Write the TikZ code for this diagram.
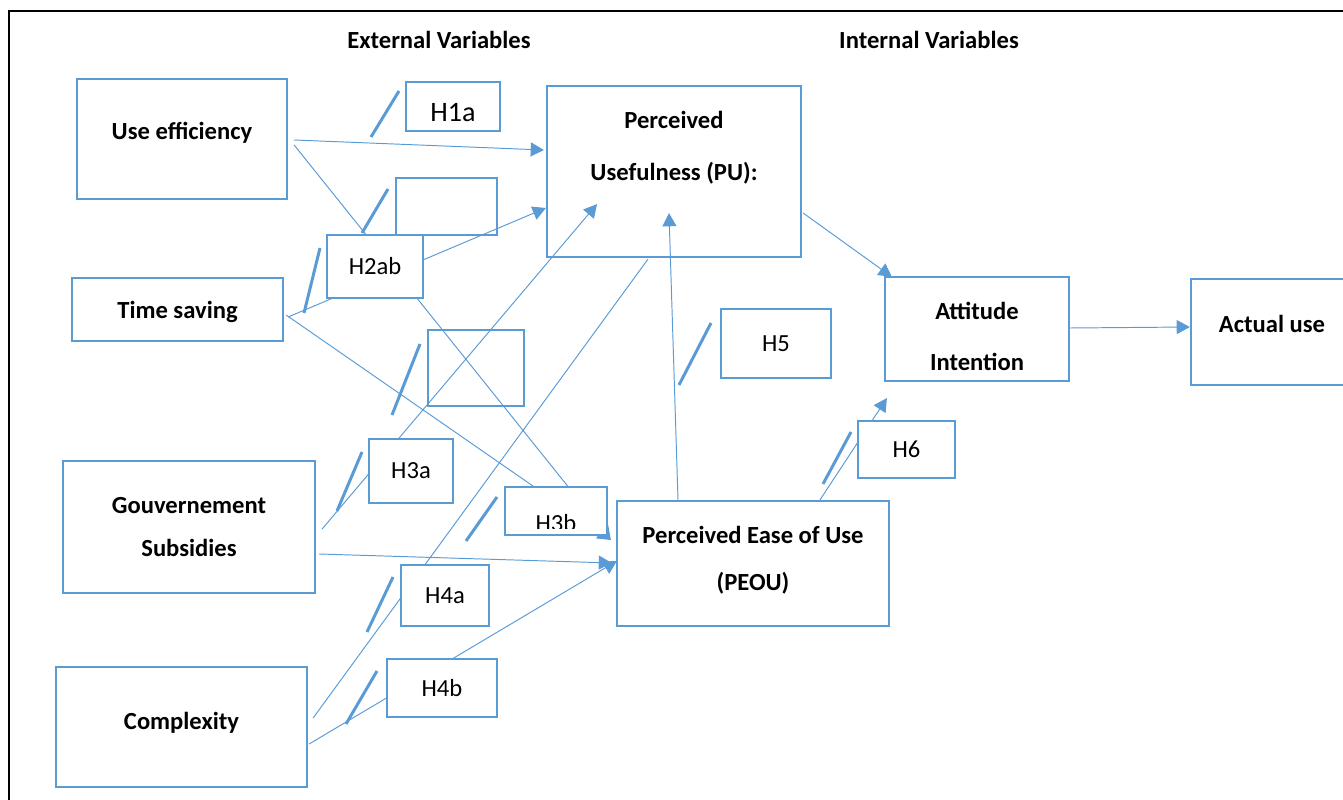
\documentclass[tikz,border=0pt]{standalone}
\usepackage{fontspec}
\setmainfont{Carlito}
\usetikzlibrary{arrows.meta,calc}
\definecolor{LineClr}{RGB}{91,155,213}

\begin{document}
\begin{tikzpicture}[x=0.02cm,y=-0.02cm]
\tikzset{
  mainbox/.style={draw=LineClr,line width=1.3pt,inner sep=0pt},
  boxtext/.style={align=center,inner sep=0pt,font=\fontsize{14}{17}\selectfont\bfseries},
  emptybox/.style={draw=LineClr,line width=1.3pt,inner sep=0pt},
  hbox/.style={draw=LineClr,line width=1.3pt,fill=white,inner sep=0pt,font=\fontsize{14}{17}\selectfont},
  head/.style={font=\fontsize{14}{17}\selectfont\bfseries},
  link/.style={draw=LineClr,line width=0.55pt},
  arr/.style={link,-{Triangle[length=7.5pt,width=8pt]}},
  tick/.style={draw=LineClr,line width=1.7pt},
}
\useasboundingbox (0,0) rectangle (1343,800);
\draw[line width=1.1pt] (9,820) -- (9,11) -- (1360,11);

\node[head] (external) at (439,40) {External Variables};
\node[head] (internal) at (929,40) {Internal Variables};

% outer variables
\node[mainbox,minimum width=4.2cm,minimum height=2.4cm,
  label={[boxtext,yshift=0.12cm]center:Use efficiency}] (efficiency) at (182,139) {};
\node[mainbox,minimum width=4.22cm,minimum height=1.26cm,
  label={[boxtext,yshift=-0.04cm]center:Time saving}] (timesaving) at (177.5,309.5) {};
\node[mainbox,minimum width=5.04cm,minimum height=2.64cm,
  label={[boxtext]center:Gouvernement\\[7pt]Subsidies}] (subsidies) at (189,527) {};
\node[mainbox,minimum width=5.02cm,minimum height=2.4cm,
  label={[boxtext,yshift=0.08cm]center:Complexity}] (complexity) at (181.5,727) {};

% inner variables
\node[mainbox,minimum width=5.08cm,minimum height=3.42cm,
  label={[boxtext,yshift=0.48cm]center:Perceived\\[12.5pt]Usefulness (PU):}] (usefulness) at (674,171.5) {};
\node[mainbox,minimum width=5.44cm,minimum height=2.5cm,
  label={[boxtext,yshift=0.06cm]center:Perceived Ease of Use\\[10pt](PEOU)}] (ease) at (753,563.5) {};
\node[mainbox,minimum width=3.68cm,minimum height=2.08cm,
  label={[boxtext,yshift=-0.14cm]center:Attitude\\[12pt]Intention}] (attitude) at (977,329) {};
\node[mainbox,minimum width=3.24cm,minimum height=2.12cm,
  label={[boxtext,yshift=0.16cm]center:Actual use}] (actual) at (1272,332) {};

\node[emptybox,minimum width=2.02cm,minimum height=1.14cm] (blankA) at (446.5,206.5) {};
\node[emptybox,minimum width=1.92cm,minimum height=1.52cm] (blankB) at (476,368) {};

% links
\draw[arr] ($(efficiency.east)+(6,1)$) -- ($(usefulness.west)+(-2,-21.5)$);
\draw[arr] ($(efficiency.east)+(6,6)$) -- ($(ease.west)+(-5,-23.5)$);
\draw[arr] ($(timesaving.east)+(4,7.5)$) -- ($(usefulness.west)+(0,36.5)$);
\draw[arr] ($(timesaving.east)+(2,5.5)$) -- ($(ease.west)+(-5,-23.5)$);
\draw[arr] ($(subsidies.east)+(6,2)$) -- ($(usefulness.south)+(-77,-54)$);
\draw[arr] ($(subsidies.east)+(3,27)$) -- ($(ease.west)+(-4,-0.5)$);
\draw[link] ($(complexity.east)+(5,-9)$) -- ($(usefulness.south)+(-26,1)$);
\draw[arr] ($(complexity.east)+(1,17)$) -- ($(ease.west)+(1,-2.5)$);
\draw[arr] ($(ease.north)+(-75,0)$) -- ($(usefulness.south)+(-5,-45)$);
\draw[arr] ($(usefulness.east)+(1,41.5)$) -- ($(attitude.north west)+(8,1)$);
\draw[arr] ($(ease.north)+(67,0)$) -- ($(attitude.south west)+(3,16)$);
\draw[arr] ($(attitude.east)+(0,-1)$) -- ($(actual.west)+(0,-5)$);

% hypotheses
\node[hbox,minimum width=1.88cm,minimum height=0.98cm,
  label={[font=\fontsize{16}{19}\selectfont,yshift=-0.12cm]center:H1a}] (h1a) at (453,106.5) {};
\node[hbox,minimum width=1.92cm,minimum height=1.26cm] (h2ab) at (375,266.5) {H2ab};
\node[hbox,minimum width=1.68cm,minimum height=1.28cm] (h3a) at (411,471) {H3a};
\node[hbox,minimum width=2.04cm,minimum height=0.96cm] (h3b) at (556,511) {};
\begin{scope}
\clip (h3b.north west) rectangle ($(h3b.south east)+(0,-8)$);
\node[font=\fontsize{14}{17}\selectfont] (h3btext) at (556,523) {H3b};
\end{scope}
\node[hbox,minimum width=1.76cm,minimum height=1.22cm] (h4a) at (445,595.5) {H4a};
\node[hbox,minimum width=2.2cm,minimum height=1.16cm] (h4b) at (442,688) {H4b};
\node[hbox,minimum width=2.2cm,minimum height=1.38cm] (h5) at (776,343.5) {H5};
\node[hbox,minimum width=1.94cm,minimum height=1.14cm] (h6) at (906.5,449.5) {H6};

\draw[tick] (371,137) -- (399,91) (362,233) -- (388,189) (304,313) -- (320,248)
  (392,415) -- (420,344) (337,511) -- (362,452) (466,541) -- (497,497)
  (367,632) -- (393,577) (346,724) -- (377,671) (679,385) -- (711,323)
  (823,484) -- (851,432);

\end{tikzpicture}
\end{document}
